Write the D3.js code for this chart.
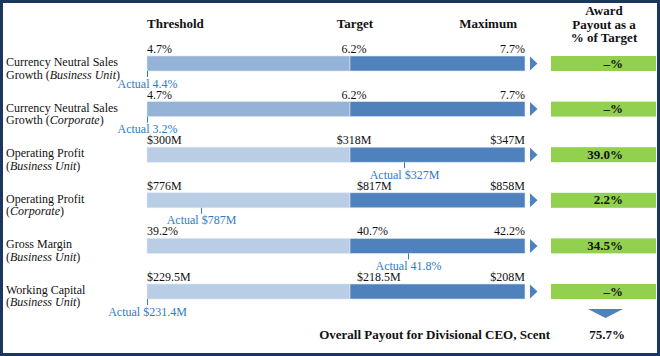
<!DOCTYPE html>
<html><head><meta charset="utf-8">
<script src="https://cdn.jsdelivr.net/npm/d3@7"></script>
<style>
html,body{margin:0;padding:0;background:#fff;}
svg{display:block;font-family:"Liberation Serif","Times New Roman",serif;}
</style></head>
<body><svg id="chart" width="660" height="356"></svg>
<script>
// ---- data ----
const labelLine1 = ["Currency Neutral Sales","Currency Neutral Sales","Operating Profit","Operating Profit","Gross Margin","Working Capital"];
const labelPrefix = ["Growth (","Growth (","(","(","(","("];
const labelUnit = ["Business Unit","Corporate","Business Unit","Corporate","Business Unit","Business Unit"];
const units = ["pct","pct","M","M","pct","M"];
const threshold = [4.7, 4.7, 300, 776, 39.2, 229.5];
const target = [6.2, 6.2, 318, 817, 40.7, 218.5];
const maximum = [7.7, 7.7, 347, 858, 42.2, 208];
const actual = [4.4, 3.2, 327, 787, 41.8, 231.4];
const actualMarker = [4.4, 3.2, 327, 787, 41.2, 231.4];
const payout = [null, null, 39.0, 2.2, 34.5, null];
const thresholdShade = ["mid","mid","light","light","light","light"];
const targetAnchor = ["middle","middle","middle","start","start","start"];
const headers = ["Threshold","Target","Maximum"];
const payoutHeader = ["Award","Payout as a","% of Target"];
const overallLabel = "Overall Payout for Divisional CEO, Scent";
const overallPayout = 75.7;

// ---- layout ----
const svg = d3.select("#chart");
const W = 660, H = 356;
const X0 = 147, XT = 350, XM = 525;
const rows = d3.range(labelLine1.length);
const y = d3.scaleBand().domain(rows).range([56, 299]).paddingInner(0.671).paddingOuter(0).align(0);
const bh = y.bandwidth();
const fmt = (v, u) => u === "pct" ? d3.format(".1f")(v) + "%" : "$" + (Number.isInteger(v) ? v : d3.format(".1f")(v)) + "M";
const blue = "#4f81bd", green = "#92d050", actualBlue = "#2f7bc4";
const shadeColor = {mid: "#95b3d7", light: "#b9cde5"};

// border
svg.append("rect").attr("x",1.5).attr("y",1.5).attr("width",W-3).attr("height",H-3)
  .attr("fill","#fff").attr("stroke","#1b365f").attr("stroke-width",3);

// headers
const hdr = svg.append("g").attr("font-weight","bold").attr("font-size",13).attr("fill","#111");
hdr.append("text").attr("x",X0).attr("y",28).text(headers[0]);
hdr.append("text").attr("x",XT+5).attr("y",28).attr("text-anchor","middle").text(headers[1]);
hdr.append("text").attr("x",XM-8).attr("y",28).attr("text-anchor","end").text(headers[2]);
payoutHeader.forEach((t,i)=>{
  hdr.append("text").attr("x",604).attr("y",15+i*13.5).attr("text-anchor","middle").text(t);
});

rows.forEach(i=>{
  const top = y(i);
  const xs = d3.scaleLinear().domain([threshold[i], target[i], maximum[i]]).range([X0, XT, XM]).clamp(true);
  const g = svg.append("g");
  // row label
  const lab = g.append("text").attr("font-size",12).attr("fill","#111");
  lab.append("tspan").attr("x",6).attr("y",top+10).text(labelLine1[i]);
  lab.append("tspan").attr("x",6).attr("y",top+22.5).text(labelPrefix[i]);
  lab.append("tspan").attr("font-style","italic").text(labelUnit[i]);
  lab.append("tspan").text(")");
  // bars
  g.append("rect").attr("x",xs(threshold[i])).attr("y",top).attr("width",xs(target[i])-xs(threshold[i])).attr("height",bh)
    .attr("fill",shadeColor[thresholdShade[i]]).attr("stroke","#dce6f2").attr("stroke-width",0.6);
  g.append("rect").attr("x",xs(target[i])).attr("y",top).attr("width",xs(maximum[i])-xs(target[i])).attr("height",bh)
    .attr("fill",blue).attr("stroke","#dce6f2").attr("stroke-width",0.6);
  // arrow
  g.append("path").attr("d",`M530,${top+0.5}L537.5,${top+bh/2}L530,${top+bh-0.5}Z`).attr("fill",blue);
  // value labels
  const vl = g.append("g").attr("font-size",12).attr("fill","#111");
  vl.append("text").attr("x",xs(threshold[i])).attr("y",top-3).text(fmt(threshold[i],units[i]));
  vl.append("text").attr("x",xs(target[i]) + (targetAnchor[i]==="middle"?4:7)).attr("y",top-3)
    .attr("text-anchor",targetAnchor[i]).text(fmt(target[i],units[i]));
  vl.append("text").attr("x",xs(maximum[i])).attr("y",top-3).attr("text-anchor","end").text(fmt(maximum[i],units[i]));
  // actual marker
  const ax = Math.round(xs(actualMarker[i]))+0.5;
  g.append("line").attr("x1",ax).attr("x2",ax).attr("y1",top+bh).attr("y2",top+bh+6)
    .attr("stroke",actualBlue).attr("stroke-width",1);
  g.append("text").attr("x",ax).attr("y",top+bh+16.5).attr("text-anchor","middle").attr("font-size",12)
    .attr("fill",actualBlue).text("Actual " + fmt(actual[i],units[i]));
  // payout box
  g.append("rect").attr("x",551).attr("y",top).attr("width",105).attr("height",bh).attr("fill",green);
  g.append("text").attr("x",623).attr("y",top+bh-3.5).attr("text-anchor","end").attr("font-size",13)
    .attr("font-weight","bold").attr("fill","#111")
    .text(payout[i]===null ? "\u2013%" : d3.format(".1f")(payout[i]) + "%");
});

// down arrow & overall
svg.append("path").attr("d","M588,309L623,309L605.5,318Z").attr("fill",blue);
svg.append("text").attr("x",550).attr("y",339).attr("text-anchor","end").attr("font-size",13)
  .attr("font-weight","bold").attr("fill","#111").text(overallLabel);
svg.append("text").attr("x",625).attr("y",339).attr("text-anchor","end").attr("font-size",13)
  .attr("font-weight","bold").attr("fill","#111").text(d3.format(".1f")(overallPayout)+"%");
</script></body></html>
